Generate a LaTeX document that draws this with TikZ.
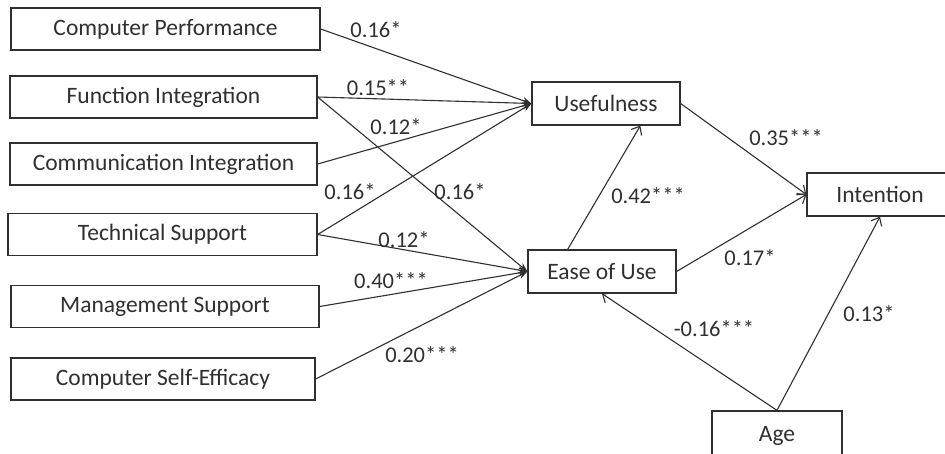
\documentclass[tikz,border=0pt]{standalone}
\usepackage{fontspec}
\setmainfont{Carlito}
\usetikzlibrary{arrows.meta,calc}
\definecolor{ink}{HTML}{303030}
\begin{document}
\begin{tikzpicture}[x=1pt,y=-1pt,
  box/.style={draw=ink,line width=1.3pt,inner sep=0pt,minimum height=42pt,text=ink,font=\fontsize{23.5}{25}\selectfont},
  lab/.style={text=ink,inner sep=0pt,font=\fontsize{22.5}{24}\selectfont},
  inarr/.style={draw=ink,line width=1.1pt,-{Stealth[length=9pt,width=7pt]}},
  outarr/.style={draw=ink,line width=1.1pt,-{Straight Barb[length=7pt,width=12pt,line width=1.1pt]}}]
\useasboundingbox (0,0) rectangle (945,453);
\clip (0,0) rectangle (945,453);
\fill[white] (0,0) rectangle (945,453);
% left boxes
\node[box,minimum width=309pt] (cp)  at (165.5,29)  {Computer Performance};
\node[box,minimum width=307pt] (fi)  at (163.5,97)  {Function Integration};
\node[box,minimum width=307pt] (ci)  at (163.5,164) {Communication Integration};
\node[box,minimum width=309pt] (ts)  at (162.5,234.5) {Technical Support};
\node[box,minimum width=308pt] (ms)  at (165,306.5) {Management Support};
\node[box,minimum width=304pt] (cse) at (163,379)  {Computer Self-Efficacy};
% right boxes
\node[box,minimum width=148pt,minimum height=43pt] (use) at (606,103.5) {Usefulness};
\node[box,minimum width=148pt,minimum height=43pt] (ease) at (602,271.5) {Ease of Use};
\node[box,minimum width=146pt,minimum height=43pt] (int) at (880,194.5) {Intention};
\node[box,minimum width=130pt,minimum height=50pt] (age) at (777,436) {Age};
% arrows into Usefulness
\draw[inarr] (cp.east) -- (use.west);
\draw[inarr] (fi.east) -- (use.west);
\draw[inarr] (ci.east) -- (use.west);
\draw[inarr] (ts.east) -- (use.west);
% arrows into Ease of Use
\draw[inarr] (fi.east) -- (ease.west);
\draw[inarr] (ts.east) -- (ease.west);
\draw[inarr] (ms.east) -- (ease.west);
\draw[inarr] (cse.east) -- (ease.west);
% right part
\draw[outarr] ($(ease.north west)!0.27!(ease.north east)$) -- ($(use.south west)!0.73!(use.south east)$);
\draw[outarr] (use.east) -- (int.west);
\draw[outarr] (ease.east) -- (int.west);
\draw[outarr] (age.north) -- (ease.south);
\draw[outarr] (age.north) -- (int.south);
% labels
\node[lab] (l1) at (376,30) {0.16*};
\node[lab] (l2) at (378,88) {0.15**};
\node[lab] (l3) at (396,127) {0.12*};
\node[lab] (l4) at (350,192) {0.16*};
\node[lab] (l5) at (460,192) {0.16*};
\node[lab] (l6) at (404,240) {0.12*};
\node[lab] (l7) at (391,281) {0.40***};
\node[lab] (l8) at (422,355) {0.20***};
\node[lab] (l9) at (648,196) {0.42***};
\node[lab] (l10) at (786,138) {0.35***};
\node[lab] (l11) at (750,258) {0.17*};
\node[lab] (l12) at (714,329) {-0.16***};
\node[lab] (l13) at (869,314) {0.13*};
\end{tikzpicture}
\end{document}
